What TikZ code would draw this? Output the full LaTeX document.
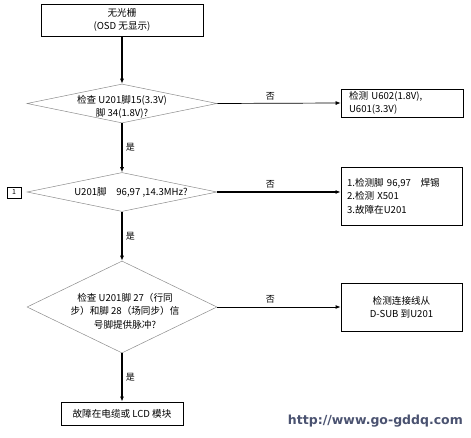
\documentclass[tikz,border=0pt]{standalone}
\usepackage{fontspec}
\setmainfont{Noto Sans CJK SC}
\newfontfamily\urlfont{DejaVu Sans}
\usetikzlibrary{arrows.meta,positioning,shapes.geometric}
\definecolor{ggGray}{HTML}{8C8C8C}
\definecolor{ggUrl}{HTML}{4A5270}

\begin{document}
\begin{tikzpicture}[x=1pt, y=-1pt,
  font=\fontsize{9.6}{13.5}\selectfont,
  box/.style={draw=black, line width=0.8pt, inner sep=0pt, align=center},
  dia/.style={diamond, draw=ggGray, line width=0.5pt, inner sep=0pt,
              minimum width=190pt, minimum height=39pt},
  txt/.style={align=center, inner sep=0pt},
  main/.style={line width=1.6pt, -{Latex[length=5pt,width=4pt]}},
  side/.style={line width=0.9pt, -{Latex[length=5pt,width=4pt]}},
  tag/.style={font=\fontsize{9}{10}\selectfont, inner sep=3pt}
]
  \useasboundingbox (0,0) rectangle (471,438);

  % main column
  \node[box, minimum width=162pt, minimum height=32pt] (start) at (122,20) {无光栅\\(OSD 无显示)};
  \node[dia] (d1) at (122,103.5) {};
  \node[txt] (t1) at (122,107) {检查 U201脚15(3.3V)\\脚 34(1.8V)?};
  \node[dia] (d2) at (122,192) {};
  \node[txt] (t2) at (131,192) {U201脚\quad 96,97 ,14.3MHz?};
  \node[dia, minimum height=92pt] (d3) at (122,307) {};
  \node[txt] (t3) at (125,311) {检查 U201脚 27（行同\\步）和脚 28（场同步）信\\号脚提供脉冲?};
  \node[box, minimum width=122pt, minimum height=23pt] (end) at (122,413.5) {故障在电缆或 LCD 模块};
  \node[draw, line width=0.6pt, minimum width=14pt, minimum height=11pt, inner sep=0pt,
        font=\fontsize{7}{8}\selectfont] (n1) at (14,192.5) {1};

  % right column
  \node[box, align=left, text width=106pt, inner xsep=8pt, minimum height=28pt] (b1) at (402,103) {检测 U602(1.8V),\\U601(3.3V)};
  \node[box, align=left, text width=109pt, inner xsep=6pt, minimum height=58pt] (b2) at (401.5,196) {1.检测脚 96,97\quad 焊锡\\2.检测 X501\\3.故障在U201};
  \node[box, minimum width=121pt, minimum height=48pt] (b3) at (401.5,307) {检测连接线从\\D-SUB 到U201};

  \node[font=\urlfont\bfseries\fontsize{12.5}{14}\selectfont, text=ggUrl, anchor=east, inner sep=0pt] (url) at (463,421) {http://www.go-gddq.com};

  \draw[main] (start.south) -- (d1.north);
  \draw[main] (d1.south) -- node[tag, right] {是} (d2.north);
  \draw[main] (d2.south) -- node[tag, right] {是} (d3.north);
  \draw[main] (d3.south) -- node[tag, right] {是} (end.north);

  \draw[side, line width=0.7pt] (d1.east) -- node[tag, above, pos=0.43] {否} (b1.west);
  \draw[side, line width=1.5pt] (d2.east) -- node[tag, above, pos=0.43] {否} (d2.east -| b2.west);
  \draw[side] (d3.east) -- node[tag, above, pos=0.43] {否} (b3.west);
\end{tikzpicture}
\end{document}
